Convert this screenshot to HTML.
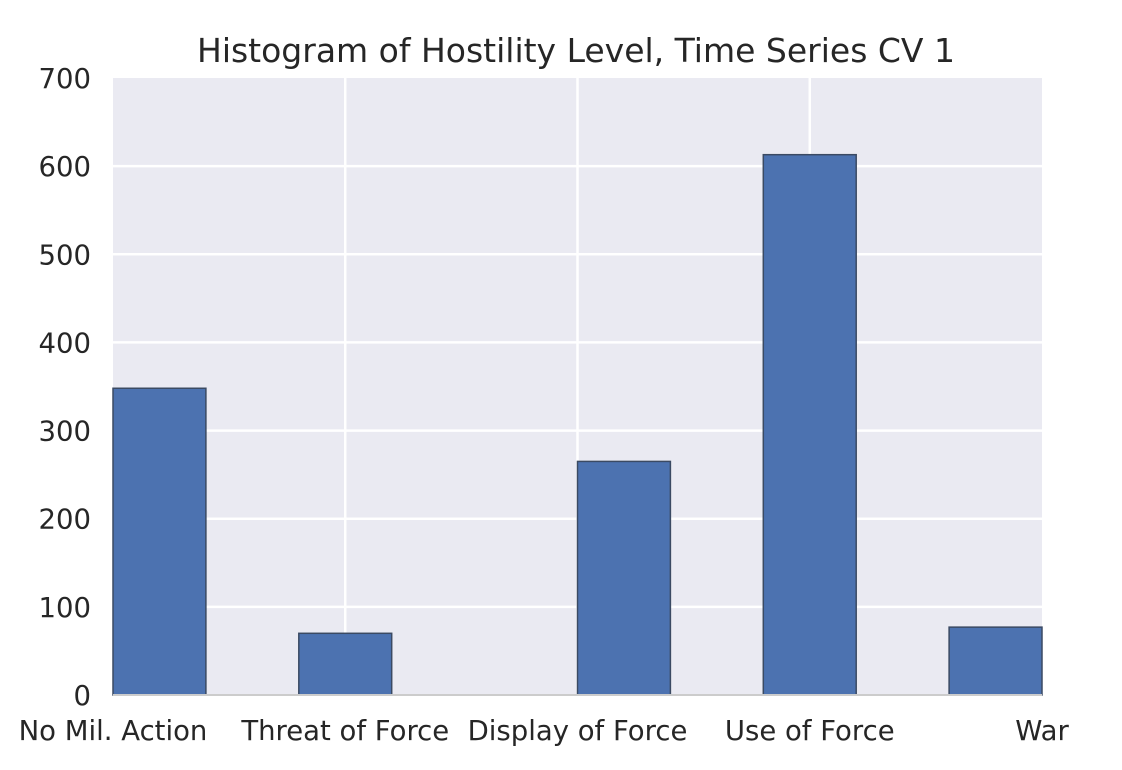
<!DOCTYPE html>
<html><head><meta charset="utf-8"><style>
html,body{margin:0;padding:0;background:#fff;width:1122px;height:770px;overflow:hidden}
text{font-family:"DejaVu Sans","Liberation Sans",sans-serif;fill:#262626}
</style></head><body>
<svg id="chart" width="1122" height="770" xmlns="http://www.w3.org/2000/svg">
<rect x="113" y="78" width="929" height="617" fill="#eaeaf2"/>
<g id="grid"></g><g id="bars"></g><g id="labels"></g>
<text x="576" y="62" text-anchor="middle" font-size="33">Histogram of Hostility Level, Time Series CV 1</text>
</svg>
<script>
const categories = ["No Mil. Action","Threat of Force","Display of Force","Use of Force","War"];
const categoryPositions = [1,2,3,4,5];
const binStarts = [1.0,1.8,3.0,3.8,4.6];
const counts = [348,70,265,613,77];
const yTicks = [0,100,200,300,400,500,600,700];
const binWidth = 0.4;
const L=113,R=1042,T=78,B=695;
const xs=v=>L+(v-1)/4*(R-L);
const ys=v=>B-v/700*(B-T);
const NS="http://www.w3.org/2000/svg";
function mk(tag,attrs,parent){const e=document.createElementNS(NS,tag);for(const k in attrs)e.setAttribute(k,attrs[k]);document.getElementById(parent).appendChild(e);return e;}
yTicks.forEach(t=>{
  if(t>0&&t<700){const l=mk('line',{x1:L,x2:R,y1:ys(t),y2:ys(t),stroke:'#fff','stroke-width':2.5},'grid');
  
  }
  const tx=mk('text',{x:91,y:ys(t)+10,'text-anchor':'end','font-size':27.5},'labels');tx.textContent=t;
  
  
});
categoryPositions.forEach((p,i)=>{
  if(p>1&&p<5){const l=mk('line',{x1:xs(p),x2:xs(p),y1:T,y2:B,stroke:'#fff','stroke-width':2.5},'grid');
  
  }
  const tx=mk('text',{x:xs(p),y:740,'text-anchor':'middle','font-size':27.5},'labels');tx.textContent=categories[i];
  
  
});
binStarts.forEach((s,i)=>{
  const r=mk('rect',{x:xs(s),y:ys(counts[i]),width:xs(s+binWidth)-xs(s),height:B-ys(counts[i]),fill:'#4c72b0',stroke:'#3b4a63','stroke-width':1.5},'bars');
  
  
});
const ax=mk('line',{x1:L,x2:R,y1:B,y2:B,stroke:'#ccc','stroke-width':2},'bars');


</script>
</body></html>
